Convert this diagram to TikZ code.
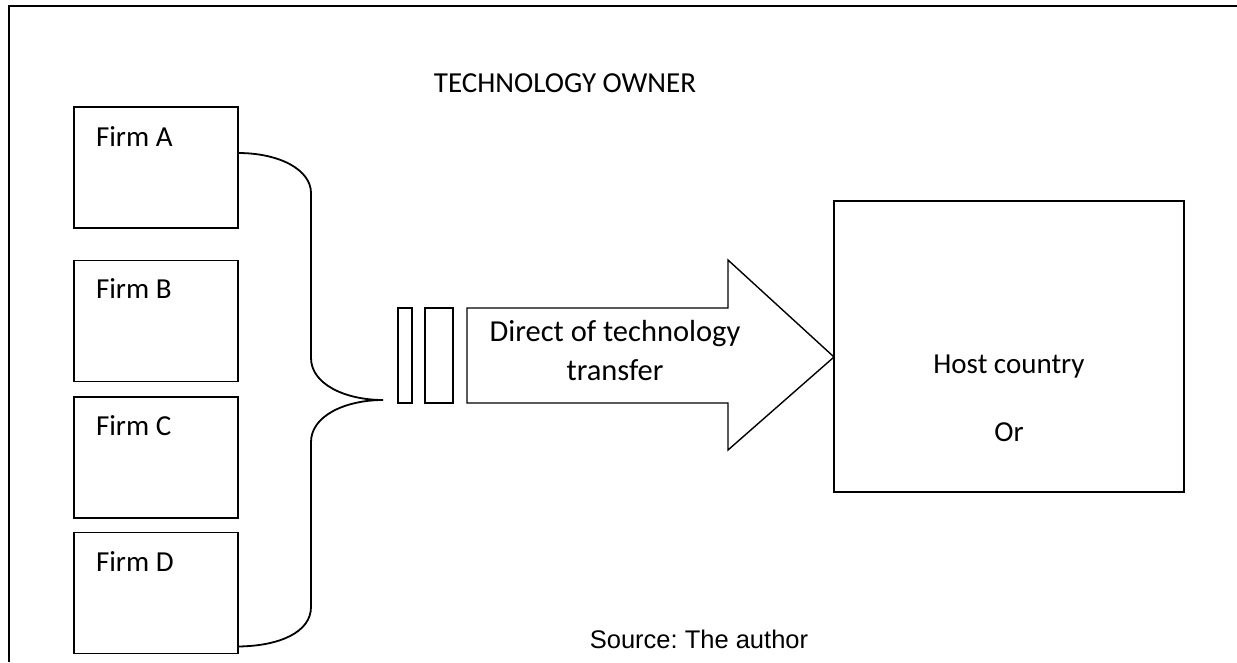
\documentclass[tikz,border=0pt]{standalone}
\usepackage{fontspec}
\setmainfont{Carlito}
\newfontfamily\srcfont{Liberation Sans}
\begin{document}
\begin{tikzpicture}[x=1pt,y=-1pt,
  every node/.style={inner sep=0pt, outer sep=0pt},
  firmbox/.style={draw, line width=1.8pt, minimum width=164pt, minimum height=121pt},
  firmtext/.style={anchor=base west, font=\fontsize{29}{35}\selectfont},
  slab/.style={draw, line width=1.6pt, minimum height=95pt},
  bracket/.style={line width=1.8pt},
  bigarrow/.style={draw, line width=1.4pt, line join=miter},
  bodytext/.style={font=\fontsize{29}{39}\selectfont}]
\useasboundingbox (0,0) rectangle (1237,662);

% outer frame: top and left edges only
\draw[line width=2pt] (1237,6) -- (9,6) -- (9,662);

% title
\node[bodytext, anchor=base] (title) at (565,92) {TECHNOLOGY OWNER};

% the four firms
\node[firmbox] (fa) at (156,167.5) {};
\node[firmbox] (fb) at (156,321) {};
\node[firmbox] (fc) at (156,457.5) {};
\node[firmbox] (fd) at (156,593) {};
\node[firmtext] (faL) at ([xshift=22pt,yshift=-39pt]fa.north west) {Firm A};
\node[firmtext] (fbL) at ([xshift=22pt,yshift=-38pt]fb.north west) {Firm B};
\node[firmtext] (fcL) at ([xshift=22pt,yshift=-38pt]fc.north west) {Firm C};
\node[firmtext] (fdL) at ([xshift=22pt,yshift=-39pt]fd.north west) {Firm D};

% brace gathering the firms
\coordinate (tip) at (383,400);
\draw[bracket] ([yshift=-46pt]fa.north east)
  .. controls (280,153) and (311,170) .. (311,193)
  -- (311,358)
  .. controls (311,384) and (345,400) .. (tip)
  .. controls (345,400) and (311,416) .. (311,442)
  -- (311,607)
  .. controls (311,632) and (280,646) .. ([yshift=7pt]fd.south east);

% two thin slabs before the arrow
\node[slab, minimum width=14pt] (s1) at (405,355.5) {};
\node[slab, minimum width=28pt] (s2) at (439,355.5) {};

% host box
\node[draw, line width=1.8pt, minimum width=350pt, minimum height=291pt] (host) at (1009,346.5) {};
\node[bodytext, anchor=base] (hostL) at (1009,373) {Host country};
\node[bodytext, anchor=base] (orL) at (1009,441) {Or};

% block arrow towards the host
\draw[bigarrow] (467,308) -- (728,308) -- (728,260) -- (host.west |- 0,357)
  -- (728,450) -- (728,403) -- (467,403) -- cycle;
\node[font=\fontsize{30.5}{39}\selectfont, align=center, anchor=base] (arrL) at (615,380) {Direct of technology\\transfer};

% source line
\node[font=\srcfont\fontsize{25.5}{30}\selectfont, anchor=base] (src) at (699,648) {\frenchspacing Source: The author};
\end{tikzpicture}
\end{document}
